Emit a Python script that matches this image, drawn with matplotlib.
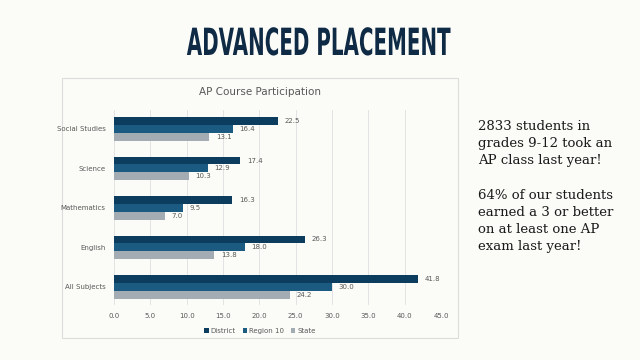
import matplotlib
matplotlib.use("Agg")
import matplotlib.pyplot as plt
import numpy as np
from matplotlib.patches import Rectangle
from matplotlib.patheffects import AbstractPathEffect
from matplotlib.transforms import Affine2D

categories = ["Social Studies", "Science", "Mathematics", "English", "All Subjects"]
series_names = ["District", "Region 10", "State"]
district = [22.5, 17.4, 16.3, 26.3, 41.8]
region10 = [16.4, 12.9, 9.5, 18.0, 30.0]
state = [13.1, 10.3, 7.0, 13.8, 24.2]
xticks = [0, 5, 10, 15, 20, 25, 30, 35, 40, 45]

colors = ["#0c3c5e", "#1b5b82", "#a3abb3"]
bg = "#fbfcf8"


class Condense(AbstractPathEffect):
    """Draw text narrower horizontally, about its own centre."""
    def __init__(self, sx):
        super().__init__()
        self.sx = sx

    def draw_path(self, renderer, gc, tpath, affine, rgbFace=None):
        ext = tpath.get_extents()
        cx = (ext.x0 + ext.x1) / 2
        pre = Affine2D().translate(-cx, 0).scale(self.sx, 1.0).translate(cx, 0)
        renderer.draw_path(gc, tpath, pre + affine, rgbFace)


fig = plt.figure(figsize=(6.4, 3.6), dpi=100, facecolor=bg)

# chart box
box = Rectangle((62/640, 1-338/360), (458-62)/640, (338-78)/360, transform=fig.transFigure,
                facecolor=bg, edgecolor="#dcdcdc", linewidth=0.8, zorder=-5)
fig.patches.append(box)

ax = fig.add_axes([114/640, 1-305/360, (441-114)/640, (305-110)/360])
ax.set_facecolor("none")

n = len(categories)
centers = np.arange(n)[::-1]  # Social Studies at top
h = 0.2
offsets = [h, 0, -h]
for vals, name, col, off in zip([district, region10, state], series_names, colors, offsets):
    bars = ax.barh(centers + off, vals, height=h, color=col, label=name, zorder=3)
    for b, v in zip(bars, vals):
        ax.text(v + 0.9, b.get_y() + b.get_height()/2, f"{v:.1f}", va="center", ha="left",
                fontsize=5, color="#595959")

ax.set_xlim(0, 45)
ax.set_ylim(-0.46, n - 1 + 0.48)
ax.set_xticks(xticks)
ax.set_xticklabels([f"{t:.1f}" for t in xticks], fontsize=5, color="#595959")
ax.set_yticks(centers)
ax.set_yticklabels(categories, fontsize=5, color="#595959")
ax.tick_params(length=0, pad=6)
ax.grid(axis="x", color="#e3e3e3", linewidth=0.7, zorder=0)
for s in ax.spines.values():
    s.set_visible(False)

fig.text(260/640, 1-92/360, "AP Course Participation", ha="center", va="center",
         fontsize=7.5, color="#595959")

handles, labels = ax.get_legend_handles_labels()
leg = fig.legend(handles, labels, loc="center", bbox_to_anchor=(260/640, 1-331/360), ncol=3,
                 frameon=False, fontsize=5, handlelength=0.6, handleheight=0.6,
                 columnspacing=1.0, handletextpad=0.3, labelcolor="#595959")

t = fig.text(319/640, 1-45/360, "ADVANCED PLACEMENT", ha="center", va="center",
             fontsize=27, fontweight="bold", color="#0f2a45", family="DejaVu Sans")
t.set_path_effects([Condense(0.53)])

right = ("2833 students in\ngrades 9-12 took an\nAP class last year!\n\n"
         "64% of our students\nearned a 3 or better\non at least one AP\nexam last year!")
fig.text(478/640, 1-120/360, right, ha="left", va="top", fontsize=9.5, color="#1a1a1a",
         family=["DejaVu Serif"], linespacing=1.42)

fig.savefig("out.png", dpi=100, facecolor=bg)
